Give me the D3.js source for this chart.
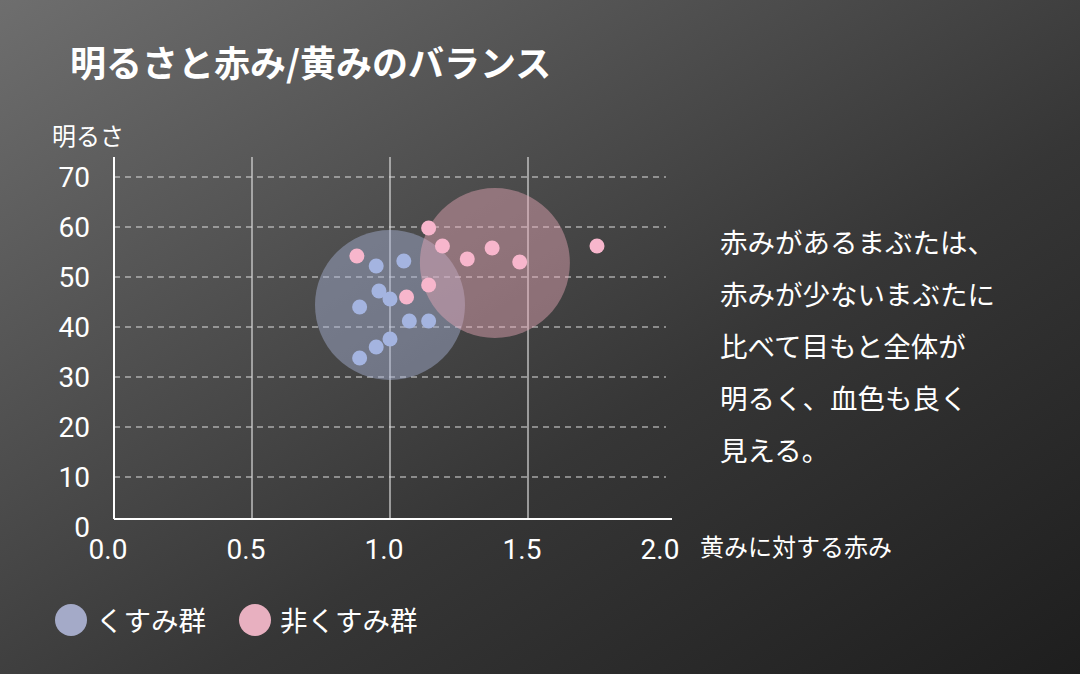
<!DOCTYPE html>
<html><head><meta charset="utf-8">
<script src="https://cdn.jsdelivr.net/npm/d3@7"></script>
<style>body{margin:0;}svg{display:block;font-family:"Noto Sans CJK JP","Noto Sans",sans-serif;}</style>
</head><body>
<svg id="chart" width="1080" height="674"></svg>
<script>
// data
var dullX = [0.89, 0.95, 1.05, 0.96, 1.0, 1.07, 1.14, 1.0, 0.95, 0.89];
var dullY = [44, 52.2, 53.2, 47.2, 45.6, 41.2, 41.2, 37.6, 36, 33.8];
var brightX = [0.88, 1.14, 1.19, 1.28, 1.37, 1.47, 1.75, 1.14, 1.06];
var brightY = [54.2, 59.8, 56.2, 53.6, 55.8, 53, 56.2, 48.4, 46];
var centers = [[1.0, 44.4], [1.38, 52.8]];
var xTicks = [0, 0.5, 1.0, 1.5, 2.0];
var yTicks = [0, 10, 20, 30, 40, 50, 60, 70];
var noteLines = ["赤みがあるまぶたは、", "赤みが少ないまぶたに", "比べて目もと全体が", "明るく、血色も良く", "見える。"];
var colBlue = "#a4b4e0", colPink = "#f7b6cc";

var svg = d3.select("#chart");
var defs = svg.append("defs");
var g = defs.append("linearGradient").attr("id", "bg")
  .attr("x1", 0).attr("y1", 0).attr("x2", 1).attr("y2", 1);
g.append("stop").attr("offset", 0).attr("stop-color", "#6e6e6e");
g.append("stop").attr("offset", 0.6).attr("stop-color", "#363636");
g.append("stop").attr("offset", 1).attr("stop-color", "#1e1e1e");
svg.append("rect").attr("width", 1080).attr("height", 674).attr("fill", "url(#bg)");

var x = d3.scaleLinear().domain([0, 2]).range([114, 666]);
var y = d3.scaleLinear().domain([0, 70]).range([527, 177]);

svg.append("text").attr("x", 70).attr("y", 77).attr("fill", "#fff")
  .attr("font-size", 36).attr("font-weight", "bold").text("明るさと赤み/黄みのバランス");
svg.append("text").attr("x", 52).attr("y", 145).attr("fill", "#fff")
  .attr("font-size", 24).text("明るさ");
svg.append("text").attr("x", 700).attr("y", 556).attr("fill", "#fff")
  .attr("font-size", 24).text("黄みに対する赤み");

// grid
svg.selectAll(".hg").data(yTicks.slice(1)).enter().append("line")
  .attr("x1", 114).attr("x2", 666).attr("y1", y).attr("y2", y)
  .attr("stroke", "#ddd").attr("stroke-width", 1.2).attr("stroke-dasharray", "6,5");
svg.selectAll(".vg").data(xTicks.slice(1, 4)).enter().append("line")
  .attr("x1", x).attr("x2", x).attr("y1", 157).attr("y2", 519)
  .attr("stroke", "#ddd").attr("stroke-width", 1.2);
svg.append("line").attr("x1", 114).attr("x2", 114).attr("y1", 157).attr("y2", 519)
  .attr("stroke", "#fff").attr("stroke-width", 2);
svg.append("line").attr("x1", 114).attr("x2", 672).attr("y1", 519).attr("y2", 519)
  .attr("stroke", "#fff").attr("stroke-width", 2);

svg.selectAll(".yl").data(yTicks).enter().append("text")
  .attr("x", 90).attr("y", function(d){ return y(d) + 10; }).attr("text-anchor", "end")
  .attr("fill", "#fff").attr("font-size", 28).attr("font-family", "Roboto, sans-serif")
  .text(function(d){ return d; });
svg.selectAll(".xl").data(xTicks).enter().append("text")
  .attr("x", function(d){ return x(d) - 6; }).attr("y", 559).attr("text-anchor", "middle")
  .attr("fill", "#fff").attr("font-size", 28).attr("font-family", "Roboto, sans-serif")
  .text(function(d){ return d.toFixed(1); });

// group circles
svg.append("circle").attr("cx", x(centers[0][0])).attr("cy", y(centers[0][1])).attr("r", 75)
  .attr("fill", "#a8b4d8").attr("opacity", 0.45);
svg.append("circle").attr("cx", x(centers[1][0])).attr("cy", y(centers[1][1])).attr("r", 75)
  .attr("fill", "#e8a8b8").attr("opacity", 0.45);

svg.selectAll(".db").data(dullX).enter().append("circle")
  .attr("cx", function(d){ return x(d); }).attr("cy", function(d, i){ return y(dullY[i]); })
  .attr("r", 7.5).attr("fill", colBlue);
svg.selectAll(".pb").data(brightX).enter().append("circle")
  .attr("cx", function(d){ return x(d); }).attr("cy", function(d, i){ return y(brightY[i]); })
  .attr("r", 7.5).attr("fill", colPink);

svg.selectAll(".nt").data(noteLines).enter().append("text")
  .attr("x", 720).attr("y", function(d, i){ return 253 + i * 52; })
  .attr("fill", "#fff").attr("font-size", 27.5).text(function(d){ return d; });

// legend
svg.append("circle").attr("cx", 71).attr("cy", 620).attr("r", 16).attr("fill", "#a4aac8");
svg.append("text").attr("x", 96).attr("y", 631).attr("fill", "#fff").attr("font-size", 27.5).text("くすみ群");
svg.append("circle").attr("cx", 255).attr("cy", 620).attr("r", 16).attr("fill", "#e8b0c0");
svg.append("text").attr("x", 280).attr("y", 631).attr("fill", "#fff").attr("font-size", 27.5).text("非くすみ群");
</script>
</body></html>
